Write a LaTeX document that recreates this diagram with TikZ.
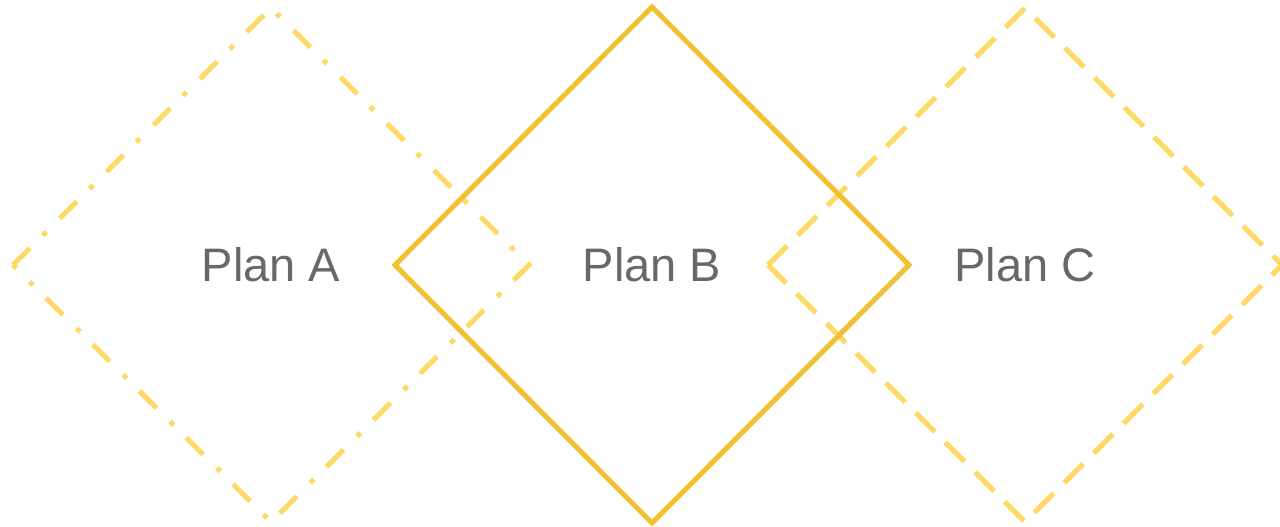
\documentclass[tikz,border=0pt]{standalone}
\usepackage{fontspec}
\setmainfont{Liberation Sans}

\definecolor{goldline}{RGB}{240,193,50}
\definecolor{goldlight}{RGB}{255,217,102}
\definecolor{plantext}{RGB}{104,104,104}

\tikzset{
    plan/.style={line width=5pt, line join=miter},
    planA/.style={plan, goldlight, dash pattern=on 24pt off 18pt on 5pt off 19pt},
    planB/.style={plan, goldline},
    planC/.style={plan, goldlight, dash pattern=on 27pt off 15pt},
    label/.style={text=plantext, font=\fontsize{47}{51}\selectfont, inner sep=0pt}
}

\begin{document}
\begin{tikzpicture}[x=1pt, y=-1pt]

    % Fix the page to the reference size
    \useasboundingbox (0,0) rectangle (1280,527);

    % Define the centres of the three plans
    \coordinate (A) at (271,265);
    \coordinate (B) at (652,265);
    \coordinate (C) at (1025,265);

    % Draw the outer plans first
    \draw[planA] (A) ++(-258,0) -- ++(258,-257) -- ++(258,257) -- ++(-258,257) -- cycle;
    \draw[planC] (C) ++(-257,0) -- ++(257,-257) -- ++(257,257) -- ++(-257,257) -- cycle;

    % Plan B on top
    \draw[planB] (B) ++(-257,0) -- ++(257,-258) -- ++(257,258) -- ++(-257,258) -- cycle;

    % Add labels for the plans
    \node[label] (labelA) at (A) {Plan A};
    \node[label] (labelB) at (B) {Plan B};
    \node[label] (labelC) at (C) {Plan C};

\end{tikzpicture}
\end{document}
